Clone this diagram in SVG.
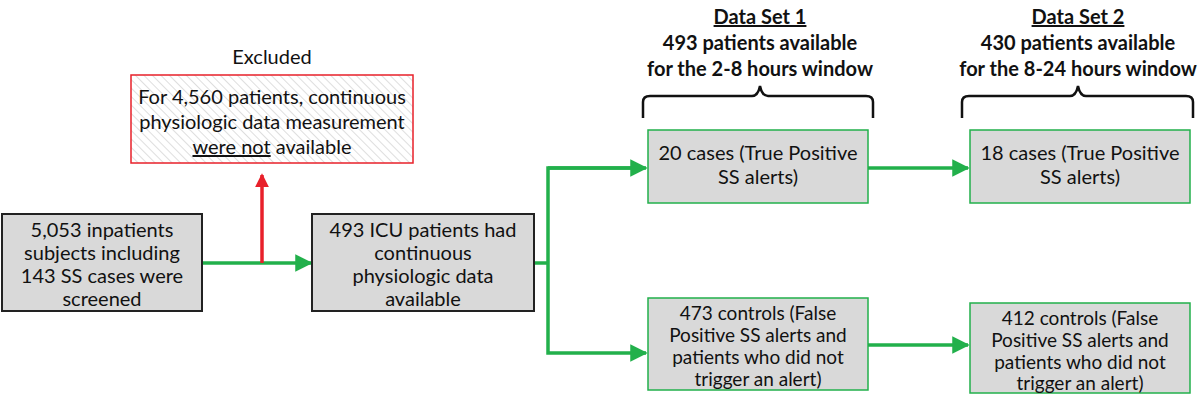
<svg xmlns="http://www.w3.org/2000/svg" width="1200" height="415" viewBox="0 0 1200 415">
<defs>
<pattern id="h" width="6" height="6" patternUnits="userSpaceOnUse" patternTransform="rotate(-45)"><rect width="6" height="6" fill="#fff"/><line x1="0" y1="0" x2="0" y2="6" stroke="#c8c8c8" stroke-width="1.2"/></pattern>
<marker id="g" markerWidth="5" markerHeight="5" refX="4.5" refY="2.5" orient="auto" markerUnits="strokeWidth"><path d="M0,0L5,2.5L0,5z" fill="#22b04b"/></marker>
<marker id="r" markerWidth="4" markerHeight="4" refX="3.5" refY="2" orient="auto" markerUnits="strokeWidth"><path d="M0,0L4,2L0,4z" fill="#e8202a"/></marker>
<style>
text{font-family:Lato,"Open Sans",sans-serif;font-size:20px;fill:#111;text-anchor:middle}
.b{font-weight:bold}
.s{font-size:19px}
.gray{fill:#d9d9d9;stroke:#222;stroke-width:2}
.grn{fill:#d9d9d9;stroke:#22b04b;stroke-width:1.5}
.c{fill:none;stroke:#22b04b;stroke-width:3.5}
.br{fill:none;stroke:#111;stroke-width:2.5}
</style>
</defs>
<g id="connectors">
<line class="c" x1="202" y1="263" x2="311" y2="263" marker-end="url(#g)"/>
<line x1="262" y1="263" x2="262" y2="175" stroke="#e8202a" stroke-width="3.5" marker-end="url(#r)"/>
<line class="c" x1="534" y1="263" x2="548" y2="263"/>
<polyline class="c" points="640,168 548,168 548,353 646,353" marker-end="url(#g)"/>
<line class="c" x1="548" y1="168" x2="646" y2="168" marker-end="url(#g)"/>
<line class="c" x1="868" y1="168" x2="968" y2="168" marker-end="url(#g)"/>
<line class="c" x1="868" y1="345" x2="968" y2="345" marker-end="url(#g)"/>
<path class="br" d="M643,118 V102 Q643,96 650,96 H752 Q758,96 760,86 Q762,96 768,96 H866 Q873,96 873,102 V118"/>
<path class="br" d="M962,118 V102 Q962,96 969,96 H1070 Q1076,96 1078,86 Q1080,96 1086,96 H1186 Q1193,96 1193,102 V118"/>
</g>
<g id="excluded">
<text x="272" y="64">Excluded</text>
<rect x="131" y="75" width="282" height="88" fill="url(#h)" stroke="#e8202a" stroke-width="1.5"/>
<text x="272" y="104">For 4,560 patients, continuous</text>
<text x="272" y="129">physiologic data measurement</text>
<text x="272" y="154"><tspan text-decoration="underline">were not</tspan> available</text>
</g>
<g id="screened">
<rect class="gray" x="2" y="214" width="200" height="97"/>
<text x="102" y="237">5,053 inpatients</text>
<text x="102" y="260">subjects including</text>
<text x="102" y="283">143 SS cases were</text>
<text x="102" y="306">screened</text>
</g>
<g id="icu">
<rect class="gray" x="312" y="214" width="222" height="97"/>
<text x="423" y="237">493 ICU patients had</text>
<text x="423" y="260">continuous</text>
<text x="423" y="283">physiologic data</text>
<text x="423" y="306">available</text>
</g>
<g id="ds1">
<text class="b" x="760" y="24" text-decoration="underline">Data Set 1</text>
<text class="b" x="760" y="50">493 patients available</text>
<text class="b" x="760" y="76">for the 2-8 hours window</text>
</g>
<g id="ds2">
<text class="b" x="1078" y="24" text-decoration="underline">Data Set 2</text>
<text class="b" x="1078" y="50">430 patients available</text>
<text class="b" x="1078" y="76">for the 8-24 hours window</text>
</g>
<g id="cases1">
<rect class="grn" x="648" y="130" width="220" height="73"/>
<text x="758" y="160">20 cases (True Positive</text>
<text x="758" y="184">SS alerts)</text>
</g>
<g id="cases2">
<rect class="grn" x="970" y="130" width="220" height="73"/>
<text x="1080" y="160">18 cases (True Positive</text>
<text x="1080" y="184">SS alerts)</text>
</g>
<g id="controls1">
<rect class="grn" x="648" y="298" width="220" height="92"/>
<text class="s" x="758" y="320">473 controls (False</text>
<text class="s" x="758" y="342">Positive SS alerts and</text>
<text class="s" x="758" y="364">patients who did not</text>
<text class="s" x="758" y="386">trigger an alert)</text>
</g>
<g id="controls2">
<rect class="grn" x="970" y="303" width="220" height="90"/>
<text class="s" x="1080" y="325">412 controls (False</text>
<text class="s" x="1080" y="347">Positive SS alerts and</text>
<text class="s" x="1080" y="369">patients who did not</text>
<text class="s" x="1080" y="390">trigger an alert)</text>
</g>
</svg>
